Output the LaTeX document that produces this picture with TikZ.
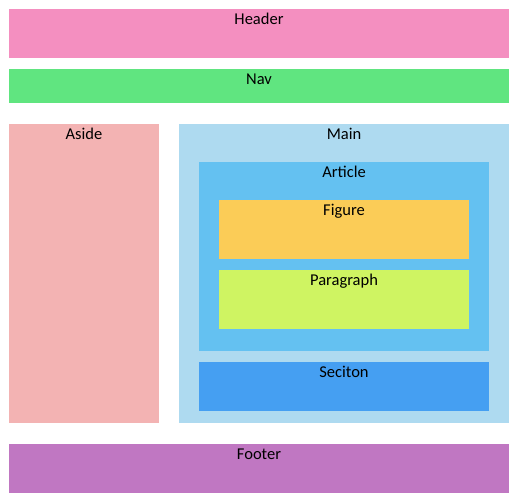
\documentclass[tikz,border=0pt]{standalone}
\usepackage{fontspec}
\setmainfont{Carlito}
\definecolor{cheader}{HTML}{F48FC0}
\definecolor{cnav}{HTML}{60E580}
\definecolor{caside}{HTML}{F3B3B3}
\definecolor{cmain}{HTML}{AEDAF0}
\definecolor{carticle}{HTML}{64C1F1}
\definecolor{cfigure}{HTML}{FBCC57}
\definecolor{cpara}{HTML}{CFF462}
\definecolor{csection}{HTML}{459FF2}
\definecolor{cfooter}{HTML}{C077C2}
\tikzset{
  lbl/.style={anchor=base, inner sep=0pt, font=\fontsize{16.5}{18}\selectfont},
}
\newcommand{\boxlbl}[7]{%
  \fill[#6] (#2,#3) rectangle (#4,#5);
  \node[lbl] (#1) at ({(#2+#4)/2},{#3+15.5}) {#7};
}
\begin{document}
\begin{tikzpicture}[x=1pt,y=-1pt]
\useasboundingbox (0,0) rectangle (515,503);
\boxlbl{header}{9}{9}{509}{58}{cheader}{Header}
\boxlbl{nav}{9}{69}{509}{103}{cnav}{Nav}
\boxlbl{aside}{9}{124}{159}{423}{caside}{Aside}
\boxlbl{main}{179}{124}{509}{423}{cmain}{Main}
\boxlbl{article}{199}{162}{489}{351}{carticle}{Article}
\boxlbl{figure}{219}{200}{469}{259}{cfigure}{Figure}
\boxlbl{para}{219}{270}{469}{329}{cpara}{Paragraph}
\boxlbl{section}{199}{362}{489}{411}{csection}{Seciton}
\boxlbl{footer}{9}{444}{509}{493}{cfooter}{Footer}
\end{tikzpicture}
\end{document}
